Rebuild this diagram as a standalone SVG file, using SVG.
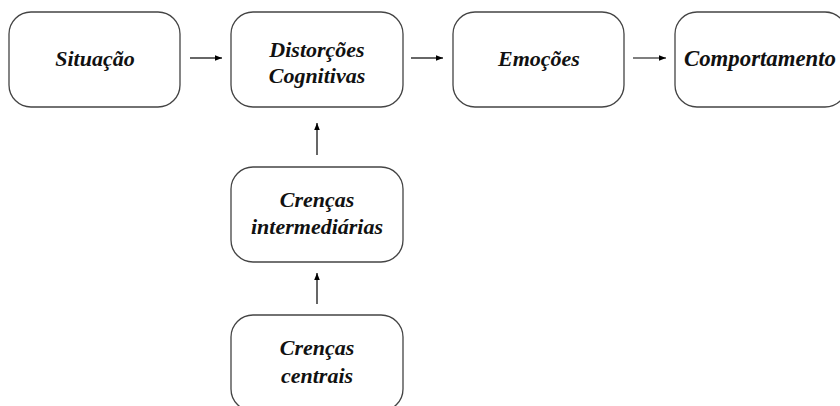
<svg xmlns="http://www.w3.org/2000/svg" width="840" height="406" viewBox="0 0 840 406">
<defs>
<marker id="ah" viewBox="0 0 10 10" refX="10" refY="5" markerWidth="7" markerHeight="7" markerUnits="userSpaceOnUse" orient="auto">
<path d="M0,1 L10,5 L0,9 Z" fill="#000"/>
</marker>
<style>
.box{fill:#fff;stroke:#444;stroke-width:1.3}
.c{stroke:#000;stroke-width:1.2;fill:none;marker-end:url(#ah)}
</style>
</defs>
<rect width="840" height="406" fill="#fff"/>
<g font-family="Liberation Serif, Times New Roman, serif" font-style="italic" font-weight="bold" font-size="22" fill="#111" text-anchor="middle">
<g id="situacao"><rect class="box" x="9" y="12" width="171" height="95" rx="22"/><text x="95" y="66">Situação</text></g>
<g id="distorcoes"><rect class="box" x="231" y="12" width="172" height="95" rx="22"/><text x="317" y="57">Distorções</text><text x="317" y="83">Cognitivas</text></g>
<g id="emocoes"><rect class="box" x="453" y="12" width="171" height="95" rx="22"/><text x="539" y="66">Emoções</text></g>
<g id="comportamento"><rect class="box" x="675" y="12" width="172" height="95" rx="22"/><text x="760" y="66" font-size="22.8">Comportamento</text></g>
<g id="intermediarias"><rect class="box" x="231" y="167" width="172" height="95" rx="22"/><text x="317" y="207">Crenças</text><text x="317" y="234">intermediárias</text></g>
<g id="centrais"><rect class="box" x="231" y="315" width="172" height="96" rx="22"/><text x="317" y="355">Crenças</text><text x="317" y="383">centrais</text></g>
</g>
<g id="connectors">
<line class="c" x1="190" y1="58" x2="222" y2="58"/>
<line class="c" x1="411" y1="58" x2="443" y2="58"/>
<line class="c" x1="633" y1="58" x2="666" y2="58"/>
<line class="c" x1="317" y1="155" x2="317" y2="123"/>
<line class="c" x1="317" y1="304" x2="317" y2="273"/>
</g>
</svg>
